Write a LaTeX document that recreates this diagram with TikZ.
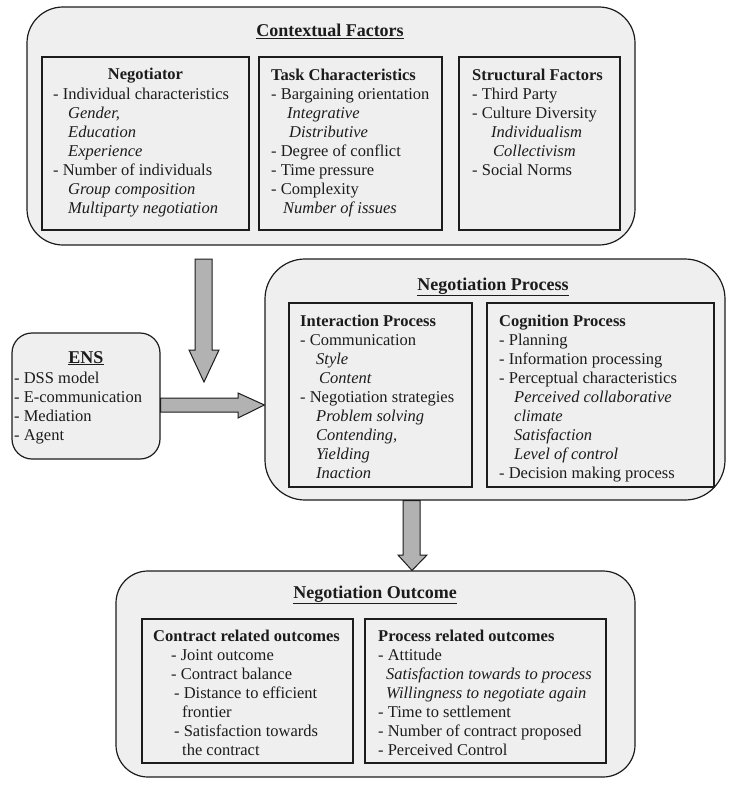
\documentclass[tikz,border=0pt]{standalone}
\usepackage{fontspec}
\setmainfont{Liberation Serif}
\usetikzlibrary{fit}
\newcommand\bodyfont{\fontsize{16.5}{19}\selectfont}
\newcommand\ttlfont{\fontsize{18}{21}\selectfont\bfseries}
\newcommand\ind[1]{\hspace*{#1pt}}
\definecolor{boxfill}{HTML}{EFEFEF}
\definecolor{inkc}{HTML}{1C1C1C}
\definecolor{arrowfill}{HTML}{B2B2B2}
\begin{document}
\begin{tikzpicture}[x=1pt,y=-1pt,
  outer/.style={draw=inkc, fill=boxfill, line width=1.2pt, rounded corners=36pt, inner sep=0pt},
  smallouter/.style={outer, rounded corners=20pt},
  inner/.style={draw=inkc, fill=boxfill, line width=1.3pt, inner sep=0pt},
  lst/.style={anchor=north west, inner sep=0pt, align=left, font=\bodyfont, text=inkc},
  hd/.style={anchor=base, inner sep=0pt, font=\bodyfont\bfseries, text=inkc},
  ttl/.style={anchor=base, inner sep=0pt, font=\ttlfont, text=inkc},
  blk/.style={draw=inkc, fill=arrowfill, line width=1pt, line join=miter}
]
\useasboundingbox (0,0) rectangle (740,800);

% ---------- Contextual factors ----------
\coordinate (c1) at (27,7); \coordinate (c2) at (635,245);
\node[outer, fit=(c1)(c2)] (ctx) {};
\node[ttl] (ctxT) at (330,37) {\underline{Contextual Factors}};

\coordinate (n1) at (42,57); \coordinate (n2) at (249,230);
\node[inner, fit=(n1)(n2)] (negB) {};
\coordinate (t1) at (259,57); \coordinate (t2) at (442,230);
\node[inner, fit=(t1)(t2)] (taskB) {};
\coordinate (s1) at (459,57); \coordinate (s2) at (620,230);
\node[inner, fit=(s1)(s2)] (strB) {};

\node[hd] (negH) at (145.5,80) {Negotiator};
\node[lst] (negL) at (53,85.7) {\strut- Individual characteristics\\
\ind{15}\textit{Gender,}\\
\ind{15}\textit{Education}\\
\ind{15}\textit{Experience}\\
- Number of individuals\\
\ind{15}\textit{Group composition}\\
\ind{15}\textit{Multiparty negotiation}};

\node[lst] (taskL) at (271,66.7) {\strut\textbf{Task Characteristics}\\
- Bargaining orientation\\
\ind{16}\textit{Integrative}\\
\ind{18}\textit{Distributive}\\
- Degree of conflict\\
- Time pressure\\
- Complexity\\
\ind{12}\textit{Number of issues}};

\node[lst] (strL) at (472,66.7) {\strut\textbf{Structural Factors}\\
- Third Party\\
- Culture Diversity\\
\ind{19}\textit{Individualism}\\
\ind{21}\textit{Collectivism}\\
- Social Norms};

% ---------- ENS ----------
\coordinate (e1) at (12,333); \coordinate (e2) at (160,459);
\node[smallouter, fit=(e1)(e2)] (ens) {};
\node[ttl] (ensT) at (86,363) {\underline{ENS}};
\node[lst] (ensL) at (14,369.7) {\strut- DSS model\\
- E-communication\\
- Mediation\\
- Agent};

% ---------- Negotiation process ----------
\coordinate (p1) at (265,259); \coordinate (p2) at (725,500);
\node[outer, rounded corners=40pt, fit=(p1)(p2)] (np) {};
\node[ttl] (npT) at (493,290) {\underline{Negotiation Process}};

\coordinate (i1) at (289,303); \coordinate (i2) at (472,487);
\node[inner, fit=(i1)(i2)] (intB) {};
\coordinate (g1) at (487,303); \coordinate (g2) at (714,487);
\node[inner, fit=(g1)(g2)] (cogB) {};

\node[lst] (intL) at (300,312.7) {\strut\textbf{Interaction Process}\\
- Communication\\
\ind{16}\textit{Style}\\
\ind{19}\textit{Content}\\
- Negotiation strategies\\
\ind{16}\textit{Problem solving}\\
\ind{16}\textit{Contending,}\\
\ind{16}\textit{Yielding}\\
\ind{16}\textit{Inaction}};

\node[lst] (cogL) at (499,312.7) {\strut\textbf{Cognition Process}\\
- Planning\\
- Information processing\\
- Perceptual characteristics\\
\ind{15}\textit{Perceived collaborative}\\
\ind{15}\textit{climate}\\
\ind{15}\textit{Satisfaction}\\
\ind{15}\textit{Level of control}\\
- Decision making process};

% ---------- Negotiation outcome ----------
\coordinate (o1) at (116,571); \coordinate (o2) at (635,777);
\node[outer, rounded corners=32pt, fit=(o1)(o2)] (no) {};
\node[ttl] (noT) at (375,598) {\underline{Negotiation Outcome}};

\coordinate (k1) at (142,619); \coordinate (k2) at (353,763);
\node[inner, fit=(k1)(k2)] (conB) {};
\coordinate (r1) at (365,619); \coordinate (r2) at (606,763);
\node[inner, fit=(r1)(r2)] (proB) {};

\node[lst] (conL) at (153,627.7) {\strut\textbf{Contract related outcomes}\\
\ind{18}- Joint outcome\\
\ind{18}- Contract balance\\
\ind{21}- Distance to efficient\\
\ind{29}frontier\\
\ind{21}- Satisfaction towards\\
\ind{29}the contract};

\node[lst] (proL) at (378,627.7) {\strut\textbf{Process related outcomes}\\
- Attitude\\
\ind{8}\textit{Satisfaction towards to process}\\
\ind{8}\textit{Willingness to negotiate again}\\
- Time to settlement\\
- Number of contract proposed\\
- Perceived Control};

% ---------- block arrows ----------
\draw[blk] (195,259) -- (212,259) -- (212,350) -- (219,350) -- (204,382)
  -- (189,350) -- (195,350) -- cycle;
\draw[blk] (ens.east |- 0,398) -- (238,398) -- (238,393) -- (np.west |- 0,405)
  -- (238,418) -- (238,412) -- (ens.east |- 0,412) -- cycle;
\draw[blk] (403,0 |- np.south) -- (420,0 |- np.south) -- (420,555) -- (427,555)
  -- (412,0 |- no.north) -- (398,555) -- (403,555) -- cycle;
\end{tikzpicture}
\end{document}
